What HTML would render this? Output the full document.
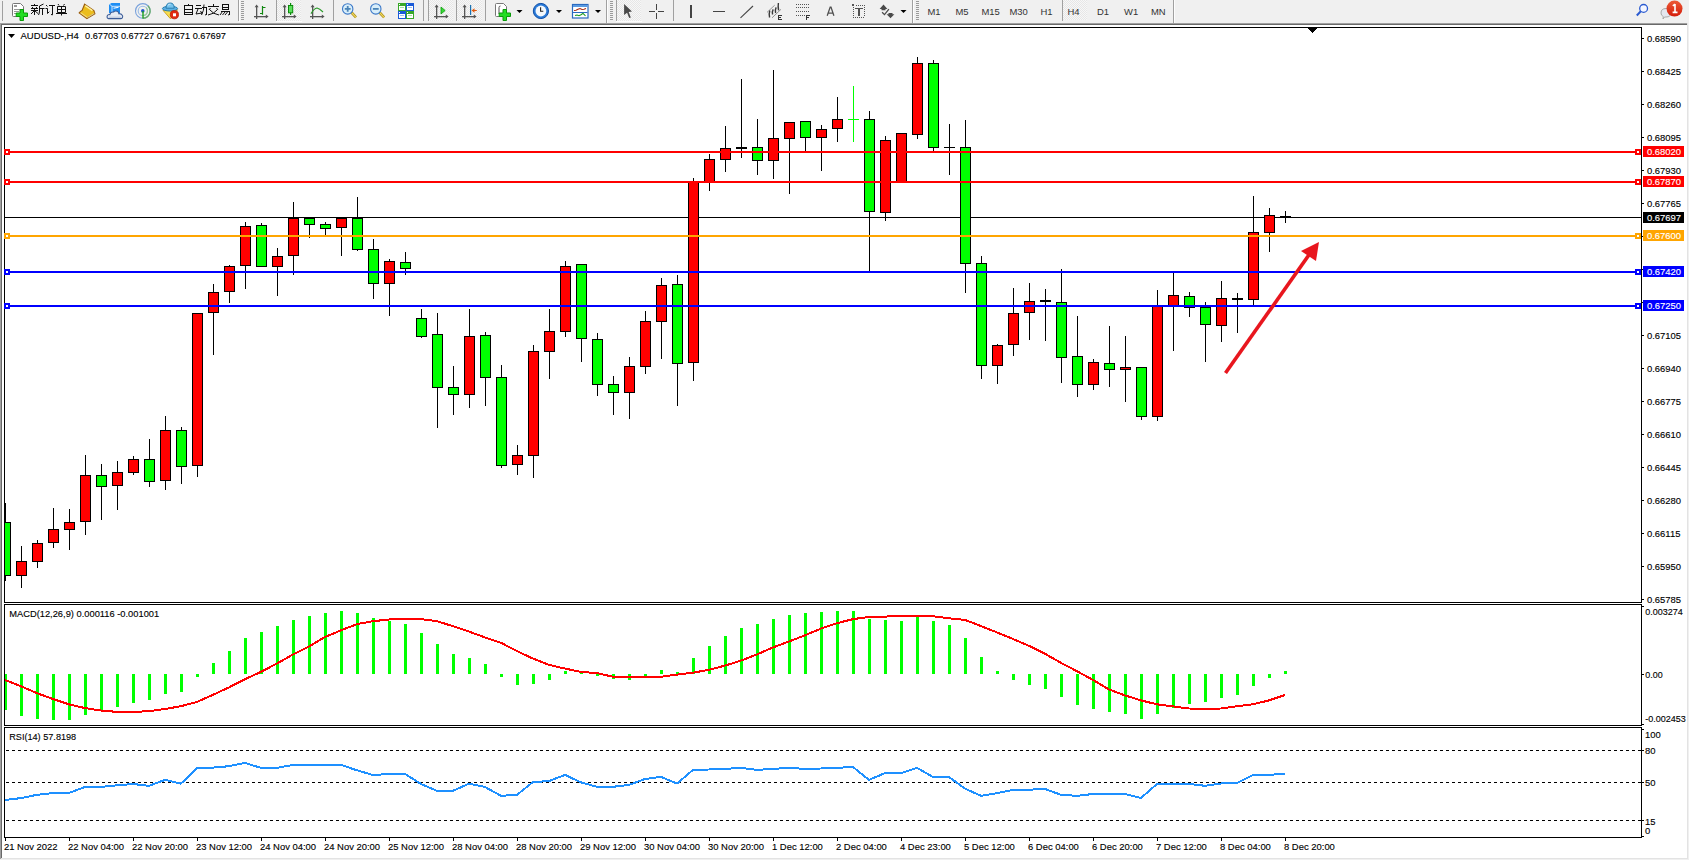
<!DOCTYPE html><html><head><meta charset="utf-8"><title>MT4 AUDUSD H4</title><style>
html,body{margin:0;padding:0;background:#f0f0f0;width:1689px;height:860px;overflow:hidden}
svg{display:block}
text{font-family:"Liberation Sans", sans-serif;font-size:9.45px}
</style></head><body>
<svg width="1689" height="860" viewBox="0 0 1689 860">
<defs><clipPath id="cm"><rect x="5" y="28" width="1636" height="574"/></clipPath><clipPath id="cmacd"><rect x="5" y="605" width="1636" height="120"/></clipPath><clipPath id="crsi"><rect x="5" y="728" width="1636" height="109"/></clipPath><pattern id="chk" width="2" height="2" patternUnits="userSpaceOnUse"><rect width="2" height="2" fill="#f7f7f7"/><rect width="1" height="1" fill="#e6e6e6"/><rect x="1" y="1" width="1" height="1" fill="#e6e6e6"/></pattern></defs>
<rect x="0" y="0" width="1689" height="23" fill="#f0f0f0"/>
<g id="toolbar">
<!-- separators (gray + white highlight) -->
<g shape-rendering="crispEdges">
<rect x="2" y="1" width="1" height="20" fill="#a0a0a0"/>
<rect x="238" y="0" width="1" height="21" fill="#a0a0a0"/><rect x="239" y="0" width="1" height="22" fill="#fdfdfd"/>
<rect x="276" y="0" width="1" height="21" fill="#a0a0a0"/>
<rect x="333" y="0" width="1" height="21" fill="#a0a0a0"/>
<rect x="423" y="0" width="1" height="21" fill="#a0a0a0"/>
<rect x="428" y="0" width="1" height="21" fill="#a0a0a0"/>
<rect x="456" y="0" width="1" height="21" fill="#a0a0a0"/>
<rect x="485" y="0" width="1" height="21" fill="#a0a0a0"/>
<rect x="606" y="0" width="1" height="23" fill="#a0a0a0"/><rect x="607" y="0" width="1" height="23" fill="#fdfdfd"/>
<rect x="616" y="0" width="1" height="21" fill="#a0a0a0"/>
<rect x="673" y="0" width="1" height="21" fill="#a0a0a0"/>
<rect x="912" y="0" width="1" height="23" fill="#a0a0a0"/><rect x="913" y="0" width="1" height="23" fill="#fdfdfd"/>
<rect x="1062" y="0" width="1" height="21" fill="#a0a0a0"/>
<rect x="1173" y="0" width="1" height="23" fill="#a0a0a0"/><rect x="1174" y="0" width="1" height="23" fill="#fdfdfd"/>
<!-- selected button backgrounds -->
<rect x="277" y="0" width="24" height="21" fill="url(#chk)"/>
<rect x="429" y="0" width="24" height="21" fill="url(#chk)"/>
<rect x="457" y="0" width="25" height="21" fill="url(#chk)"/>
<rect x="617" y="0" width="24" height="21" fill="url(#chk)"/>
<rect x="1063" y="0" width="24" height="20" fill="url(#chk)"/>
<rect x="276" y="21" width="26" height="1" fill="#fdfdfd"/>
<rect x="616" y="21" width="26" height="1" fill="#fdfdfd"/>
<!-- grips -->
<g fill="#9a9a9a">
<rect x="241" y="1" width="3" height="1"/>
<rect x="241" y="3" width="3" height="1"/>
<rect x="241" y="5" width="3" height="1"/>
<rect x="241" y="7" width="3" height="1"/>
<rect x="241" y="9" width="3" height="1"/>
<rect x="241" y="11" width="3" height="1"/>
<rect x="241" y="13" width="3" height="1"/>
<rect x="241" y="15" width="3" height="1"/>
<rect x="241" y="17" width="3" height="1"/>
<rect x="241" y="19" width="3" height="1"/>
<rect x="610" y="1" width="3" height="1"/>
<rect x="610" y="3" width="3" height="1"/>
<rect x="610" y="5" width="3" height="1"/>
<rect x="610" y="7" width="3" height="1"/>
<rect x="610" y="9" width="3" height="1"/>
<rect x="610" y="11" width="3" height="1"/>
<rect x="610" y="13" width="3" height="1"/>
<rect x="610" y="15" width="3" height="1"/>
<rect x="610" y="17" width="3" height="1"/>
<rect x="610" y="19" width="3" height="1"/>
<rect x="916" y="1" width="3" height="1"/>
<rect x="916" y="3" width="3" height="1"/>
<rect x="916" y="5" width="3" height="1"/>
<rect x="916" y="7" width="3" height="1"/>
<rect x="916" y="9" width="3" height="1"/>
<rect x="916" y="11" width="3" height="1"/>
<rect x="916" y="13" width="3" height="1"/>
<rect x="916" y="15" width="3" height="1"/>
<rect x="916" y="17" width="3" height="1"/>
<rect x="916" y="19" width="3" height="1"/>
</g>
</g>

<!-- New order doc -->
<path d="M12.5,4.5 Q12.5,3.5 13.5,3.5 L20.5,3.5 L23.5,6.5 L23.5,15.5 Q23.5,16.5 22.5,16.5 L13.5,16.5 Q12.5,16.5 12.5,15.5 Z" fill="#fff" stroke="#777" stroke-width="1"/>
<g fill="#999" shape-rendering="crispEdges"><rect x="14" y="5" width="3" height="2"/><rect x="14" y="9" width="6" height="1"/><rect x="14" y="11" width="5" height="1"/><rect x="14" y="13" width="3" height="1"/></g>
<path d="M20,9.5 h3.5 v3.5 h4 v3.5 h-4 v4 h-3.5 v-4 h-3.8 v-3.5 h3.8 z" fill="#22dd22" stroke="#0a9a0a" stroke-width="1"/>
<!-- 新订单 -->
<g stroke="#111" stroke-width="1" fill="none" shape-rendering="crispEdges">
<path d="M34.5,4 v1.5 M31,5.5 h7 M32.5,6.5 v1.5 M36.5,6.5 v1.5 M31,8.5 h7 M31,10.5 h7 M34.5,8.5 v6.5"/>
</g>
<g stroke="#111" stroke-width="1" fill="none">
<path d="M34,11 L31,14 M35,11 L38,13.5 M43.5,4 L39.5,6 M39.5,6 v5 Q39.5,13 38.5,15 M39.5,8.5 h5 M42.5,8.5 v6.5"/>
<path d="M46,5 l1.5,1.5 M45.5,8.5 h2 v5 l1.8,-1.8 M49,5.5 h6 M52.5,5.5 v9.3 q0,0.5 -1.5,-0.5"/>
<path d="M58,4 l1,1.5 M64.5,4 l-1,1.5 M57.5,6.5 h8 v6 h-8 z M57.5,9.5 h8 M61.5,6.5 v9 M56,13.5 h11"/>
</g>

<!-- gold book -->
<path d="M84.6,4.2 L93.9,10.5 L94.9,13.7 L86.9,18.5 L79.2,12.8 Q80.5,11.2 82,10.6 Z" fill="#ebbd1e" stroke="#9a5c0c" stroke-width="1.1"/>
<path d="M85.2,5.6 L92.5,10.6" stroke="#fff3a0" stroke-width="1.3"/>
<path d="M80.6,12.8 L87,17.2" stroke="#f2d878" stroke-width="1.2"/>
<path d="M87.3,17.6 L94.3,13.3" stroke="#d8c890" stroke-width="1"/>
<!-- blue box + cloud -->
<path d="M109,4.5 L111.5,3 L120,3 L120,13 L109,13 Z" fill="#1e8ef4"/>
<path d="M109.3,4 L112,6.3 L112,13 M112,6.3 L120,6.3" fill="none" stroke="#e0f0ff" stroke-width="0.9"/>
<path d="M113.5,8.2 L118.5,7.2" stroke="#ffffff" stroke-width="1.1"/>
<path d="M108.6,18.6 Q106.6,18.2 107.2,16 Q107.8,14.3 109.8,14.6 Q110.6,11.6 113.5,12 Q115,10.4 117.2,11.3 Q119,12 118.8,13.6 Q121.8,13.4 122.6,15.8 Q123,18.4 120.5,18.6 Z" fill="#e6ebf4" stroke="#3d5d98" stroke-width="1.1"/>
<path d="M109,17.2 H121" stroke="#c0cade" stroke-width="1.2"/>
<!-- signal rings -->
<circle cx="142.8" cy="10.9" r="7.3" fill="none" stroke="#7aa2dc" stroke-width="1.1"/>
<circle cx="142.8" cy="10.9" r="4.6" fill="none" stroke="#9abce4" stroke-width="1.1"/>
<path d="M147.9,5.7 A7.3,7.3 0 0 1 142.8,18.2" fill="none" stroke="#6aae6a" stroke-width="1.3"/>
<path d="M146.1,7.6 A4.6,4.6 0 0 1 142.8,15.5" fill="none" stroke="#98cc98" stroke-width="1.1"/>
<circle cx="142.8" cy="10.9" r="1.8" fill="#2255cc"/>
<path d="M143,11 V18.5" stroke="#1aa01a" stroke-width="1.4"/>
<!-- hat + stop -->
<path d="M163,10.3 L177.5,9.8 L170.5,18.8 Z" fill="#f6dc50" stroke="#c89a10" stroke-width="0.9"/>
<ellipse cx="170" cy="8.6" rx="7.6" ry="2.4" fill="#5cb0e4" stroke="#2a7eae" stroke-width="1"/>
<path d="M166,8.2 Q166,3 170.2,3 Q174.2,3 174.2,8.2 Z" fill="#78c4ee" stroke="#2a7eae" stroke-width="1"/>
<path d="M168,5.2 Q169,4 170.5,4.2" stroke="#d8f0ff" stroke-width="0.9" fill="none"/>
<circle cx="174.4" cy="14.7" r="4.1" fill="#e22a10" stroke="#b81a08" stroke-width="0.8"/>
<rect x="173" y="13.3" width="3" height="3" fill="#fff"/>
<!-- 自动交易 -->
<g stroke="#111" stroke-width="1" fill="none" shape-rendering="crispEdges">
<path d="M188,4 h1 M184.5,5.5 h8 v9 h-8 z M184.5,9.5 h8 M184.5,12.5 h8"/>
<path d="M196,5.5 h5 M195,8.5 h7 M202,7.5 h4.5 v7"/>
<path d="M213.5,4 v2 M208,6.5 h11"/>
<path d="M222.5,4.5 h6 v5 h-6 z M222.5,7 h6 M221,11.5 h8.5 v3"/>
</g>
<g stroke="#111" stroke-width="1" fill="none">
<path d="M198,9 L196,14 L202,13 M200.5,11 L202,13.5 M204,4.5 Q204,11 201.5,15 M206.5,14.5 L205,15"/>
<path d="M210.5,8 L209,10 M216.5,8 L218,10 M210,10 Q213,14 219,15 M217,10 Q214,14 208,15"/>
<path d="M222.5,11.5 L220,15 M225,12 L222.5,15 M227.5,12 L225,15 M229.5,14.5 L228,15"/>
</g>

<!-- chart type icons -->
<g fill="#555" stroke="none">
<rect x="256" y="6" width="1.3" height="13"/><rect x="254" y="16" width="13" height="1.3"/>
<path d="M256.6,4.6 L254.6,7.3 L258.6,7.3 Z M268.6,16.6 L265.8,14.6 L265.8,18.6 Z"/>
<rect x="284" y="6" width="1.3" height="13"/><rect x="282" y="16" width="13" height="1.3"/>
<path d="M284.6,4.6 L282.6,7.3 L286.6,7.3 Z M296.6,16.6 L293.8,14.6 L293.8,18.6 Z"/>
<rect x="312" y="6" width="1.3" height="13"/><rect x="310" y="16" width="13" height="1.3"/>
<path d="M312.6,4.6 L310.6,7.3 L314.6,7.3 Z M324.6,16.6 L321.8,14.6 L321.8,18.6 Z"/>
<rect x="436" y="6" width="1.3" height="13"/><rect x="434" y="16" width="13" height="1.3"/>
<path d="M436.6,4.6 L434.6,7.3 L438.6,7.3 Z M448.6,16.6 L445.8,14.6 L445.8,18.6 Z"/>
<rect x="464" y="6" width="1.3" height="13"/><rect x="462" y="16" width="13" height="1.3"/>
<path d="M464.6,4.6 L462.6,7.3 L466.6,7.3 Z M476.6,16.6 L473.8,14.6 L473.8,18.6 Z"/>
</g>
<path d="M262.5,6 V14.8 M262.5,7.5 H265.5 M260,13.5 H262.5" fill="none" stroke="#118811" stroke-width="1.2"/>
<path d="M290.6,3 V15" stroke="#0a8a0a" stroke-width="1.2"/>
<rect x="288.5" y="5.5" width="4.2" height="7.3" fill="#5ae05a" stroke="#0a8a0a" stroke-width="1"/>
<path d="M311,13.6 Q314,8.5 317,8 Q319.5,8.5 323,12" fill="none" stroke="#2a9a2a" stroke-width="1.1"/>
<path d="M441,7 L445.2,10.5 L441,14 Z" fill="#38d838" stroke="#0a9a0a" stroke-width="0.8"/>
<rect x="470" y="5" width="1.2" height="10" fill="#1a70b0"/>
<path d="M471.5,10.5 L474.5,8.3 L474.5,12.7 Z M474,10 h2.8 v1 h-2.8 z" fill="#e05a10"/>

<!-- zoom in/out -->
<path d="M351.5,12.5 L356,17.3" stroke="#a88a10" stroke-width="2.6"/>
<path d="M351.5,12.5 L356,17.3" stroke="#f0d860" stroke-width="1.2"/>
<circle cx="347.7" cy="8.9" r="5.2" fill="#d8eefa" stroke="#3a78c8" stroke-width="1.1"/>
<path d="M344.8,8.9 h5.8 M347.7,6 v5.8" stroke="#4a84b8" stroke-width="1.8"/>
<path d="M379.6,12.5 L384.1,17.3" stroke="#a88a10" stroke-width="2.6"/>
<path d="M379.6,12.5 L384.1,17.3" stroke="#f0d860" stroke-width="1.2"/>
<circle cx="375.8" cy="8.9" r="5.2" fill="#d8eefa" stroke="#3a78c8" stroke-width="1.1"/>
<path d="M372.9,8.9 h5.8" stroke="#4a84b8" stroke-width="1.8"/>

<!-- tile windows -->
<g shape-rendering="crispEdges">
<rect x="398" y="3" width="8" height="8" fill="#38a828"/>
<rect x="399" y="4" width="1" height="1" fill="#fff"/>
<rect x="399" y="6" width="6" height="4" fill="#fff"/>
<rect x="400" y="7" width="4" height="1" fill="#a8e0a0"/>
<rect x="406" y="3" width="8" height="8" fill="#1a5ad8"/>
<rect x="407" y="4" width="1" height="1" fill="#fff"/>
<rect x="407" y="6" width="6" height="4" fill="#fff"/>
<rect x="408" y="7" width="4" height="1" fill="#a0c0f0"/>
<rect x="398" y="11" width="8" height="8" fill="#1a5ad8"/>
<rect x="399" y="12" width="1" height="1" fill="#fff"/>
<rect x="399" y="14" width="6" height="4" fill="#fff"/>
<rect x="400" y="15" width="4" height="1" fill="#a0c0f0"/>
<rect x="406" y="11" width="8" height="8" fill="#38a828"/>
<rect x="407" y="12" width="1" height="1" fill="#fff"/>
<rect x="407" y="14" width="6" height="4" fill="#fff"/>
<rect x="408" y="15" width="4" height="1" fill="#a8e0a0"/>
</g>

<!-- indicators doc + plus -->
<path d="M495.5,4.5 Q495.5,3.5 496.5,3.5 L503.5,3.5 L506.5,6.5 L506.5,15.5 Q506.5,16.5 505.5,16.5 L496.5,16.5 Q495.5,16.5 495.5,15.5 Z" fill="#fff" stroke="#777" stroke-width="1"/>
<path d="M500.5,6 Q499,6 499,7.5 V14" fill="none" stroke="#555" stroke-width="1"/>
<path d="M503,9.5 h3.5 v3.5 h4 v3.5 h-4 v4 h-3.5 v-4 h-3.8 v-3.5 h3.8 z" fill="#22dd22" stroke="#0a9a0a" stroke-width="1"/>
<path d="M516.5,10 h6 l-3,3 z" fill="#000"/>
<!-- clock -->
<circle cx="540.9" cy="11" r="7.6" fill="#2a7ad8" stroke="#1050a8" stroke-width="1"/>
<circle cx="540.9" cy="11" r="5.4" fill="#f4f8fc"/>
<path d="M540.6,7.3 V11.3 H543.3" fill="none" stroke="#222" stroke-width="1.1"/>
<path d="M556,10 h6 l-3,3 z" fill="#000"/>
<!-- templates -->
<rect x="572.5" y="4.5" width="15.5" height="13.5" fill="#fff" stroke="#2a6ac0" stroke-width="1.2"/>
<rect x="573" y="5" width="14.5" height="2" fill="#5a9ae0"/>
<rect x="573" y="12" width="14.5" height="1" fill="#2a6ac0"/>
<path d="M574,10.5 L576,10.3 L578,9.3 L580,8.6 L582,9.5 L584,9.2 L586,8.5" fill="none" stroke="#a82a10" stroke-width="1.1"/>
<path d="M575,15.5 L577,15 L579,15.7 L581,14.8 L583,13.4 L585.5,15.8" fill="none" stroke="#1a9a1a" stroke-width="1.1"/>
<path d="M595,10 h6 l-3,3 z" fill="#000"/>

<!-- cursor / crosshair -->
<path d="M624.1,3.9 L624.1,14.9 L627.1,12.8 L629.2,18.1 L630.8,17.4 L628.7,12 L632,11.5 Z" fill="#4a4a4a"/>
<g fill="#444" shape-rendering="crispEdges">
<rect x="656" y="4" width="1" height="6"/><rect x="656" y="13" width="1" height="6"/>
<rect x="649" y="11" width="6" height="1"/><rect x="658" y="11" width="6" height="1"/>
<!-- vertical / horizontal line tools -->
<rect x="690" y="5" width="1.5" height="13"/>
<rect x="713" y="11" width="12" height="1.4"/>
</g>
<path d="M740.5,17.8 L753,6" stroke="#444" stroke-width="1.1"/>
<!-- fibo channel E -->
<path d="M767,12.4 L774.7,5.2 M772.1,17.8 L781,9.3" stroke="#8a8a8a" stroke-width="0.9" fill="none"/>
<path d="M769.6,17.5 Q768.8,13.5 769.8,10.6 M772.6,14.5 Q771.8,12 773.2,9.4 M775.6,13 Q774.8,10 776.2,7.4 M778.6,10.3 Q777.8,6.5 778.4,3" stroke="#3a3a3a" stroke-width="1.4" fill="none"/>
<g fill="#333" shape-rendering="crispEdges">
<rect x="778" y="15" width="1" height="5"/><rect x="778" y="15" width="4" height="1"/><rect x="778" y="17" width="3" height="1"/><rect x="778" y="19" width="4" height="1"/>
</g>
<!-- fibo F -->
<g fill="#444" shape-rendering="crispEdges">
<rect x="796" y="4" width="13" height="1" fill="url(#dots)"/>
</g>
<g fill="#555" shape-rendering="crispEdges">
<rect x="796" y="4" width="1" height="1"/>
<rect x="798" y="4" width="1" height="1"/>
<rect x="800" y="4" width="1" height="1"/>
<rect x="802" y="4" width="1" height="1"/>
<rect x="804" y="4" width="1" height="1"/>
<rect x="806" y="4" width="1" height="1"/>
<rect x="808" y="4" width="1" height="1"/>
<rect x="796" y="7" width="1" height="1"/>
<rect x="798" y="7" width="1" height="1"/>
<rect x="800" y="7" width="1" height="1"/>
<rect x="802" y="7" width="1" height="1"/>
<rect x="804" y="7" width="1" height="1"/>
<rect x="806" y="7" width="1" height="1"/>
<rect x="808" y="7" width="1" height="1"/>
<rect x="796" y="11" width="1" height="1"/>
<rect x="798" y="11" width="1" height="1"/>
<rect x="800" y="11" width="1" height="1"/>
<rect x="802" y="11" width="1" height="1"/>
<rect x="804" y="11" width="1" height="1"/>
<rect x="806" y="11" width="1" height="1"/>
<rect x="808" y="11" width="1" height="1"/>
<rect x="796" y="15" width="1" height="1"/>
<rect x="798" y="15" width="1" height="1"/>
<rect x="800" y="15" width="1" height="1"/>
<rect x="802" y="15" width="1" height="1"/>
<rect x="804" y="15" width="1" height="1"/>
</g>
<g fill="#333" shape-rendering="crispEdges"><rect x="806" y="15" width="1" height="5"/><rect x="806" y="15" width="4" height="1"/><rect x="806" y="17" width="3" height="1"/></g>
<!-- A -->
<path d="M827.2,15.8 L830.2,7.1 H831 L833.9,15.8 M828.4,13.2 h4.4" fill="none" stroke="#505050" stroke-width="1.3"/>
<!-- text box T -->
<g fill="#555" shape-rendering="crispEdges">
<rect x="856" y="5" width="1" height="1"/>
<rect x="858" y="5" width="1" height="1"/>
<rect x="860" y="5" width="1" height="1"/>
<rect x="862" y="5" width="1" height="1"/>
<rect x="864" y="5" width="1" height="1"/>
<rect x="853" y="17" width="1" height="1"/>
<rect x="855" y="17" width="1" height="1"/>
<rect x="857" y="17" width="1" height="1"/>
<rect x="859" y="17" width="1" height="1"/>
<rect x="861" y="17" width="1" height="1"/>
<rect x="863" y="17" width="1" height="1"/>
<rect x="853" y="7" width="1" height="1"/><rect x="864" y="7" width="1" height="1"/>
<rect x="853" y="9" width="1" height="1"/><rect x="864" y="9" width="1" height="1"/>
<rect x="853" y="11" width="1" height="1"/><rect x="864" y="11" width="1" height="1"/>
<rect x="853" y="13" width="1" height="1"/><rect x="864" y="13" width="1" height="1"/>
<rect x="853" y="15" width="1" height="1"/><rect x="864" y="15" width="1" height="1"/>
<rect x="852" y="4" width="2" height="2"/></g>
<g fill="#505050" shape-rendering="crispEdges"><rect x="855" y="8" width="8" height="1.4"/><rect x="858.3" y="8" width="2" height="7.8"/></g>
<!-- arrows icon -->
<path d="M883.5,4.6 L879.6,8.9 H881.5 V10.2 H885.5 V8.9 H887.4 Z M890.5,18.2 L886.6,14.2 H888.5 V12.9 H892.5 V14.2 H894.4 Z" fill="#4a4a4a"/>
<path d="M882.1,12.3 L884.5,14.6 L888.9,9.2" fill="none" stroke="#4a4a4a" stroke-width="1.3"/>
<path d="M900.5,10 h6 l-3,3 z" fill="#000"/>

<!-- timeframes -->
<g fill="#333" style="font-family:'Liberation Sans',sans-serif;font-size:9.6px">
<text x="927.5" y="15">M1</text>
<text x="955.5" y="15">M5</text>
<text x="981.5" y="15">M15</text>
<text x="1009.5" y="15">M30</text>
<text x="1040.5" y="15">H1</text>
<text x="1067.5" y="15">H4</text>
<text x="1097" y="15">D1</text>
<text x="1124" y="15">W1</text>
<text x="1151" y="15">MN</text>
</g>

<!-- search -->
<circle cx="1643.6" cy="8.4" r="3.9" fill="#f4f6ff" stroke="#2a5ad0" stroke-width="1.3"/>
<path d="M1640.8,11.3 L1636.8,15.5" stroke="#2a5ad0" stroke-width="2"/>
<!-- chat + badge -->
<path d="M1661,13 Q1661,8.5 1666,8.5 Q1671,8.5 1671,13 Q1671,17 1666,17 L1664.5,17 L1663,19 L1663.3,16.6 Q1661,15.5 1661,13 Z" fill="#e4e6ee" stroke="#a0a0a0" stroke-width="0.9"/>
<defs><linearGradient id="badge" x1="0" y1="0" x2="0" y2="1"><stop offset="0" stop-color="#ec5a36"/><stop offset="1" stop-color="#d41c0a"/></linearGradient></defs>
<circle cx="1674.5" cy="8.6" r="8" fill="url(#badge)"/>
<path d="M1675,4 V12.2 M1672.6,12.4 h4.9 M1672.8,5.8 l2.2,-1.6" stroke="#fff" stroke-width="1.6" fill="none"/>
</g>

<rect x="0" y="23" width="1689" height="1" fill="#a0a0a0"/>
<rect x="0" y="24" width="1687" height="1" fill="#696969"/>
<g shape-rendering="crispEdges">
<rect x="2" y="25" width="1685" height="833" fill="#ffffff"/>
<rect x="0" y="23" width="1" height="837" fill="#a0a0a0"/>
<rect x="1" y="24" width="1" height="835" fill="#696969"/>
<rect x="1687" y="23" width="1" height="836" fill="#e3e3e3"/>
<rect x="1" y="858" width="1687" height="1" fill="#e3e3e3"/>
<rect x="1688" y="23" width="1" height="837" fill="#f0f0f0"/>
<rect x="0" y="859" width="1689" height="1" fill="#f0f0f0"/>
<rect x="4" y="27" width="1638" height="1" fill="#000"/>
<rect x="4" y="602" width="1638" height="1" fill="#000"/>
<rect x="4" y="27" width="1" height="576" fill="#000"/>
<rect x="1641" y="27" width="1" height="576" fill="#000"/>
<rect x="4" y="604" width="1638" height="1" fill="#000"/>
<rect x="4" y="725" width="1638" height="1" fill="#000"/>
<rect x="4" y="604" width="1" height="122" fill="#000"/>
<rect x="1641" y="604" width="1" height="122" fill="#000"/>
<rect x="4" y="727" width="1638" height="1" fill="#000"/>
<rect x="4" y="837" width="1638" height="1" fill="#000"/>
<rect x="4" y="727" width="1" height="111" fill="#000"/>
<rect x="1641" y="727" width="1" height="111" fill="#000"/>
<g clip-path="url(#cm)">
<rect x="5" y="217" width="1636" height="1" fill="#000"/>
<rect x="5" y="503" width="1" height="78" fill="#000"/>
<rect x="0" y="522" width="11" height="54" fill="#000"/>
<rect x="1" y="523" width="9" height="52" fill="#00ff00"/>
<rect x="21" y="546" width="1" height="42" fill="#000"/>
<rect x="16" y="561" width="11" height="15" fill="#000"/>
<rect x="17" y="562" width="9" height="13" fill="#ff0000"/>
<rect x="37" y="540" width="1" height="28" fill="#000"/>
<rect x="32" y="543" width="11" height="19" fill="#000"/>
<rect x="33" y="544" width="9" height="17" fill="#ff0000"/>
<rect x="53" y="508" width="1" height="40" fill="#000"/>
<rect x="48" y="529" width="11" height="14" fill="#000"/>
<rect x="49" y="530" width="9" height="12" fill="#ff0000"/>
<rect x="69" y="509" width="1" height="41" fill="#000"/>
<rect x="64" y="522" width="11" height="8" fill="#000"/>
<rect x="65" y="523" width="9" height="6" fill="#ff0000"/>
<rect x="85" y="455" width="1" height="80" fill="#000"/>
<rect x="80" y="475" width="11" height="47" fill="#000"/>
<rect x="81" y="476" width="9" height="45" fill="#ff0000"/>
<rect x="101" y="464" width="1" height="56" fill="#000"/>
<rect x="96" y="475" width="11" height="12" fill="#000"/>
<rect x="97" y="476" width="9" height="10" fill="#00ff00"/>
<rect x="117" y="461" width="1" height="49" fill="#000"/>
<rect x="112" y="472" width="11" height="14" fill="#000"/>
<rect x="113" y="473" width="9" height="12" fill="#ff0000"/>
<rect x="133" y="456" width="1" height="19" fill="#000"/>
<rect x="128" y="459" width="11" height="14" fill="#000"/>
<rect x="129" y="460" width="9" height="12" fill="#ff0000"/>
<rect x="149" y="439" width="1" height="48" fill="#000"/>
<rect x="144" y="459" width="11" height="23" fill="#000"/>
<rect x="145" y="460" width="9" height="21" fill="#00ff00"/>
<rect x="165" y="416" width="1" height="74" fill="#000"/>
<rect x="160" y="430" width="11" height="51" fill="#000"/>
<rect x="161" y="431" width="9" height="49" fill="#ff0000"/>
<rect x="181" y="427" width="1" height="57" fill="#000"/>
<rect x="176" y="430" width="11" height="37" fill="#000"/>
<rect x="177" y="431" width="9" height="35" fill="#00ff00"/>
<rect x="197" y="313" width="1" height="164" fill="#000"/>
<rect x="192" y="313" width="11" height="153" fill="#000"/>
<rect x="193" y="314" width="9" height="151" fill="#ff0000"/>
<rect x="213" y="284" width="1" height="71" fill="#000"/>
<rect x="208" y="292" width="11" height="21" fill="#000"/>
<rect x="209" y="293" width="9" height="19" fill="#ff0000"/>
<rect x="229" y="265" width="1" height="38" fill="#000"/>
<rect x="224" y="266" width="11" height="26" fill="#000"/>
<rect x="225" y="267" width="9" height="24" fill="#ff0000"/>
<rect x="245" y="222" width="1" height="67" fill="#000"/>
<rect x="240" y="226" width="11" height="40" fill="#000"/>
<rect x="241" y="227" width="9" height="38" fill="#ff0000"/>
<rect x="261" y="223" width="1" height="43" fill="#000"/>
<rect x="256" y="225" width="11" height="42" fill="#000"/>
<rect x="257" y="226" width="9" height="40" fill="#00ff00"/>
<rect x="277" y="248" width="1" height="48" fill="#000"/>
<rect x="272" y="256" width="11" height="11" fill="#000"/>
<rect x="273" y="257" width="9" height="9" fill="#ff0000"/>
<rect x="293" y="202" width="1" height="73" fill="#000"/>
<rect x="288" y="218" width="11" height="38" fill="#000"/>
<rect x="289" y="219" width="9" height="36" fill="#ff0000"/>
<rect x="309" y="218" width="1" height="20" fill="#000"/>
<rect x="304" y="218" width="11" height="7" fill="#000"/>
<rect x="305" y="219" width="9" height="5" fill="#00ff00"/>
<rect x="325" y="222" width="1" height="13" fill="#000"/>
<rect x="320" y="224" width="11" height="5" fill="#000"/>
<rect x="321" y="225" width="9" height="3" fill="#00ff00"/>
<rect x="341" y="218" width="1" height="38" fill="#000"/>
<rect x="336" y="218" width="11" height="10" fill="#000"/>
<rect x="337" y="219" width="9" height="8" fill="#ff0000"/>
<rect x="357" y="197" width="1" height="54" fill="#000"/>
<rect x="352" y="218" width="11" height="32" fill="#000"/>
<rect x="353" y="219" width="9" height="30" fill="#00ff00"/>
<rect x="373" y="239" width="1" height="60" fill="#000"/>
<rect x="368" y="249" width="11" height="35" fill="#000"/>
<rect x="369" y="250" width="9" height="33" fill="#00ff00"/>
<rect x="389" y="259" width="1" height="57" fill="#000"/>
<rect x="384" y="261" width="11" height="23" fill="#000"/>
<rect x="385" y="262" width="9" height="21" fill="#ff0000"/>
<rect x="405" y="252" width="1" height="23" fill="#000"/>
<rect x="400" y="262" width="11" height="7" fill="#000"/>
<rect x="401" y="263" width="9" height="5" fill="#00ff00"/>
<rect x="421" y="309" width="1" height="29" fill="#000"/>
<rect x="416" y="318" width="11" height="19" fill="#000"/>
<rect x="417" y="319" width="9" height="17" fill="#00ff00"/>
<rect x="437" y="313" width="1" height="115" fill="#000"/>
<rect x="432" y="334" width="11" height="54" fill="#000"/>
<rect x="433" y="335" width="9" height="52" fill="#00ff00"/>
<rect x="453" y="366" width="1" height="49" fill="#000"/>
<rect x="448" y="387" width="11" height="8" fill="#000"/>
<rect x="449" y="388" width="9" height="6" fill="#00ff00"/>
<rect x="469" y="309" width="1" height="99" fill="#000"/>
<rect x="464" y="336" width="11" height="59" fill="#000"/>
<rect x="465" y="337" width="9" height="57" fill="#ff0000"/>
<rect x="485" y="332" width="1" height="74" fill="#000"/>
<rect x="480" y="335" width="11" height="43" fill="#000"/>
<rect x="481" y="336" width="9" height="41" fill="#00ff00"/>
<rect x="501" y="365" width="1" height="103" fill="#000"/>
<rect x="496" y="377" width="11" height="89" fill="#000"/>
<rect x="497" y="378" width="9" height="87" fill="#00ff00"/>
<rect x="517" y="445" width="1" height="30" fill="#000"/>
<rect x="512" y="455" width="11" height="10" fill="#000"/>
<rect x="513" y="456" width="9" height="8" fill="#ff0000"/>
<rect x="533" y="345" width="1" height="133" fill="#000"/>
<rect x="528" y="351" width="11" height="105" fill="#000"/>
<rect x="529" y="352" width="9" height="103" fill="#ff0000"/>
<rect x="549" y="309" width="1" height="70" fill="#000"/>
<rect x="544" y="331" width="11" height="21" fill="#000"/>
<rect x="545" y="332" width="9" height="19" fill="#ff0000"/>
<rect x="565" y="261" width="1" height="76" fill="#000"/>
<rect x="560" y="266" width="11" height="66" fill="#000"/>
<rect x="561" y="267" width="9" height="64" fill="#ff0000"/>
<rect x="581" y="264" width="1" height="98" fill="#000"/>
<rect x="576" y="264" width="11" height="75" fill="#000"/>
<rect x="577" y="265" width="9" height="73" fill="#00ff00"/>
<rect x="597" y="333" width="1" height="63" fill="#000"/>
<rect x="592" y="339" width="11" height="46" fill="#000"/>
<rect x="593" y="340" width="9" height="44" fill="#00ff00"/>
<rect x="613" y="376" width="1" height="39" fill="#000"/>
<rect x="608" y="384" width="11" height="9" fill="#000"/>
<rect x="609" y="385" width="9" height="7" fill="#00ff00"/>
<rect x="629" y="357" width="1" height="62" fill="#000"/>
<rect x="624" y="366" width="11" height="27" fill="#000"/>
<rect x="625" y="367" width="9" height="25" fill="#ff0000"/>
<rect x="645" y="311" width="1" height="63" fill="#000"/>
<rect x="640" y="321" width="11" height="46" fill="#000"/>
<rect x="641" y="322" width="9" height="44" fill="#ff0000"/>
<rect x="661" y="278" width="1" height="81" fill="#000"/>
<rect x="656" y="285" width="11" height="37" fill="#000"/>
<rect x="657" y="286" width="9" height="35" fill="#ff0000"/>
<rect x="677" y="275" width="1" height="131" fill="#000"/>
<rect x="672" y="284" width="11" height="80" fill="#000"/>
<rect x="673" y="285" width="9" height="78" fill="#00ff00"/>
<rect x="693" y="178" width="1" height="203" fill="#000"/>
<rect x="688" y="182" width="11" height="181" fill="#000"/>
<rect x="689" y="183" width="9" height="179" fill="#ff0000"/>
<rect x="709" y="154" width="1" height="37" fill="#000"/>
<rect x="704" y="159" width="11" height="23" fill="#000"/>
<rect x="705" y="160" width="9" height="21" fill="#ff0000"/>
<rect x="725" y="126" width="1" height="46" fill="#000"/>
<rect x="720" y="148" width="11" height="12" fill="#000"/>
<rect x="721" y="149" width="9" height="10" fill="#ff0000"/>
<rect x="741" y="79" width="1" height="79" fill="#000"/>
<rect x="736" y="147" width="11" height="2" fill="#000"/>
<rect x="757" y="119" width="1" height="56" fill="#000"/>
<rect x="752" y="147" width="11" height="14" fill="#000"/>
<rect x="753" y="148" width="9" height="12" fill="#00ff00"/>
<rect x="773" y="70" width="1" height="109" fill="#000"/>
<rect x="768" y="138" width="11" height="23" fill="#000"/>
<rect x="769" y="139" width="9" height="21" fill="#ff0000"/>
<rect x="789" y="122" width="1" height="72" fill="#000"/>
<rect x="784" y="122" width="11" height="17" fill="#000"/>
<rect x="785" y="123" width="9" height="15" fill="#ff0000"/>
<rect x="805" y="121" width="1" height="30" fill="#000"/>
<rect x="800" y="121" width="11" height="17" fill="#000"/>
<rect x="801" y="122" width="9" height="15" fill="#00ff00"/>
<rect x="821" y="125" width="1" height="46" fill="#000"/>
<rect x="816" y="129" width="11" height="9" fill="#000"/>
<rect x="817" y="130" width="9" height="7" fill="#ff0000"/>
<rect x="837" y="97" width="1" height="45" fill="#000"/>
<rect x="832" y="119" width="11" height="10" fill="#000"/>
<rect x="833" y="120" width="9" height="8" fill="#ff0000"/>
<rect x="853" y="86" width="1" height="56" fill="#00ff00"/>
<rect x="848" y="119" width="11" height="1" fill="#00ff00"/>
<rect x="869" y="111" width="1" height="160" fill="#000"/>
<rect x="864" y="119" width="11" height="93" fill="#000"/>
<rect x="865" y="120" width="9" height="91" fill="#00ff00"/>
<rect x="885" y="136" width="1" height="85" fill="#000"/>
<rect x="880" y="140" width="11" height="73" fill="#000"/>
<rect x="881" y="141" width="9" height="71" fill="#ff0000"/>
<rect x="901" y="133" width="1" height="48" fill="#000"/>
<rect x="896" y="133" width="11" height="49" fill="#000"/>
<rect x="897" y="134" width="9" height="47" fill="#ff0000"/>
<rect x="917" y="57" width="1" height="82" fill="#000"/>
<rect x="912" y="63" width="11" height="72" fill="#000"/>
<rect x="913" y="64" width="9" height="70" fill="#ff0000"/>
<rect x="933" y="60" width="1" height="91" fill="#000"/>
<rect x="928" y="63" width="11" height="85" fill="#000"/>
<rect x="929" y="64" width="9" height="83" fill="#00ff00"/>
<rect x="949" y="124" width="1" height="51" fill="#000"/>
<rect x="944" y="147" width="11" height="1" fill="#000"/>
<rect x="965" y="120" width="1" height="173" fill="#000"/>
<rect x="960" y="147" width="11" height="117" fill="#000"/>
<rect x="961" y="148" width="9" height="115" fill="#00ff00"/>
<rect x="981" y="256" width="1" height="123" fill="#000"/>
<rect x="976" y="263" width="11" height="103" fill="#000"/>
<rect x="977" y="264" width="9" height="101" fill="#00ff00"/>
<rect x="997" y="344" width="1" height="40" fill="#000"/>
<rect x="992" y="345" width="11" height="21" fill="#000"/>
<rect x="993" y="346" width="9" height="19" fill="#ff0000"/>
<rect x="1013" y="288" width="1" height="68" fill="#000"/>
<rect x="1008" y="313" width="11" height="32" fill="#000"/>
<rect x="1009" y="314" width="9" height="30" fill="#ff0000"/>
<rect x="1029" y="283" width="1" height="57" fill="#000"/>
<rect x="1024" y="301" width="11" height="12" fill="#000"/>
<rect x="1025" y="302" width="9" height="10" fill="#ff0000"/>
<rect x="1045" y="289" width="1" height="52" fill="#000"/>
<rect x="1040" y="300" width="11" height="2" fill="#000"/>
<rect x="1061" y="269" width="1" height="114" fill="#000"/>
<rect x="1056" y="302" width="11" height="56" fill="#000"/>
<rect x="1057" y="303" width="9" height="54" fill="#00ff00"/>
<rect x="1077" y="316" width="1" height="81" fill="#000"/>
<rect x="1072" y="356" width="11" height="29" fill="#000"/>
<rect x="1073" y="357" width="9" height="27" fill="#00ff00"/>
<rect x="1093" y="359" width="1" height="31" fill="#000"/>
<rect x="1088" y="362" width="11" height="23" fill="#000"/>
<rect x="1089" y="363" width="9" height="21" fill="#ff0000"/>
<rect x="1109" y="326" width="1" height="61" fill="#000"/>
<rect x="1104" y="363" width="11" height="7" fill="#000"/>
<rect x="1105" y="364" width="9" height="5" fill="#00ff00"/>
<rect x="1125" y="336" width="1" height="66" fill="#000"/>
<rect x="1120" y="367" width="11" height="3" fill="#000"/>
<rect x="1121" y="368" width="9" height="1" fill="#ff0000"/>
<rect x="1141" y="367" width="1" height="53" fill="#000"/>
<rect x="1136" y="367" width="11" height="50" fill="#000"/>
<rect x="1137" y="368" width="9" height="48" fill="#00ff00"/>
<rect x="1157" y="290" width="1" height="131" fill="#000"/>
<rect x="1152" y="306" width="11" height="111" fill="#000"/>
<rect x="1153" y="307" width="9" height="109" fill="#ff0000"/>
<rect x="1173" y="273" width="1" height="78" fill="#000"/>
<rect x="1168" y="295" width="11" height="11" fill="#000"/>
<rect x="1169" y="296" width="9" height="9" fill="#ff0000"/>
<rect x="1189" y="292" width="1" height="25" fill="#000"/>
<rect x="1184" y="296" width="11" height="12" fill="#000"/>
<rect x="1185" y="297" width="9" height="10" fill="#00ff00"/>
<rect x="1205" y="302" width="1" height="60" fill="#000"/>
<rect x="1200" y="307" width="11" height="18" fill="#000"/>
<rect x="1201" y="308" width="9" height="16" fill="#00ff00"/>
<rect x="1221" y="281" width="1" height="61" fill="#000"/>
<rect x="1216" y="298" width="11" height="28" fill="#000"/>
<rect x="1217" y="299" width="9" height="26" fill="#ff0000"/>
<rect x="1237" y="293" width="1" height="40" fill="#000"/>
<rect x="1232" y="298" width="11" height="2" fill="#000"/>
<rect x="1253" y="196" width="1" height="109" fill="#000"/>
<rect x="1248" y="232" width="11" height="68" fill="#000"/>
<rect x="1249" y="233" width="9" height="66" fill="#ff0000"/>
<rect x="1269" y="208" width="1" height="44" fill="#000"/>
<rect x="1264" y="215" width="11" height="18" fill="#000"/>
<rect x="1265" y="216" width="9" height="16" fill="#ff0000"/>
<rect x="1285" y="211" width="1" height="12" fill="#000"/>
<rect x="1280" y="216" width="11" height="2" fill="#000"/>
<rect x="5" y="151" width="1636" height="2" fill="#ff0000"/>
<rect x="5" y="181" width="1636" height="2" fill="#ff0000"/>
<rect x="5" y="235" width="1636" height="2" fill="#ffa500"/>
<rect x="5" y="271" width="1636" height="2" fill="#0000ff"/>
<rect x="5" y="305" width="1636" height="2" fill="#0000ff"/>
</g>
<rect x="4" y="149" width="6" height="6" fill="#ff0000"/>
<rect x="6" y="151" width="2" height="2" fill="#fff"/>
<rect x="1635" y="149" width="6" height="6" fill="#ff0000"/>
<rect x="1637" y="151" width="2" height="2" fill="#fff"/>
<rect x="4" y="179" width="6" height="6" fill="#ff0000"/>
<rect x="6" y="181" width="2" height="2" fill="#fff"/>
<rect x="1635" y="179" width="6" height="6" fill="#ff0000"/>
<rect x="1637" y="181" width="2" height="2" fill="#fff"/>
<rect x="4" y="233" width="6" height="6" fill="#ffa500"/>
<rect x="6" y="235" width="2" height="2" fill="#fff"/>
<rect x="1635" y="233" width="6" height="6" fill="#ffa500"/>
<rect x="1637" y="235" width="2" height="2" fill="#fff"/>
<rect x="4" y="269" width="6" height="6" fill="#0000ff"/>
<rect x="6" y="271" width="2" height="2" fill="#fff"/>
<rect x="1635" y="269" width="6" height="6" fill="#0000ff"/>
<rect x="1637" y="271" width="2" height="2" fill="#fff"/>
<rect x="4" y="303" width="6" height="6" fill="#0000ff"/>
<rect x="6" y="305" width="2" height="2" fill="#fff"/>
<rect x="1635" y="303" width="6" height="6" fill="#0000ff"/>
<rect x="1637" y="305" width="2" height="2" fill="#fff"/>
<polygon points="1307,28 1317,28 1312,33" fill="#000"/>
</g>
<line x1="1225.5" y1="373" x2="1311" y2="252" stroke="#e8161e" stroke-width="3.6"/>
<polygon points="1319,242 1301,251 1316,261" fill="#e8161e"/>
<polygon points="8,34 15,34 11.5,38" fill="#000"/>
<text transform="translate(20.5,39) scale(1,1.05)" fill="#000" stroke="#000" stroke-width="0.12" textLength="58.3" lengthAdjust="spacingAndGlyphs">AUDUSD-,H4</text>
<text transform="translate(85,39) scale(1,1.05)" fill="#000" stroke="#000" stroke-width="0.12" textLength="141" lengthAdjust="spacingAndGlyphs">0.67703 0.67727 0.67671 0.67697</text>
<g shape-rendering="crispEdges">
<rect x="1642" y="38" width="2" height="1" fill="#000"/>
<rect x="1642" y="71" width="2" height="1" fill="#000"/>
<rect x="1642" y="104" width="2" height="1" fill="#000"/>
<rect x="1642" y="137" width="2" height="1" fill="#000"/>
<rect x="1642" y="170" width="2" height="1" fill="#000"/>
<rect x="1642" y="203" width="2" height="1" fill="#000"/>
<rect x="1642" y="236" width="2" height="1" fill="#000"/>
<rect x="1642" y="269" width="2" height="1" fill="#000"/>
<rect x="1642" y="302" width="2" height="1" fill="#000"/>
<rect x="1642" y="335" width="2" height="1" fill="#000"/>
<rect x="1642" y="368" width="2" height="1" fill="#000"/>
<rect x="1642" y="401" width="2" height="1" fill="#000"/>
<rect x="1642" y="434" width="2" height="1" fill="#000"/>
<rect x="1642" y="467" width="2" height="1" fill="#000"/>
<rect x="1642" y="500" width="2" height="1" fill="#000"/>
<rect x="1642" y="533" width="2" height="1" fill="#000"/>
<rect x="1642" y="566" width="2" height="1" fill="#000"/>
<rect x="1642" y="599" width="2" height="1" fill="#000"/>
</g>
<text transform="translate(1647,42.1) scale(1,1.05)" fill="#000" stroke="#000" stroke-width="0.12">0.68590</text>
<text transform="translate(1647,75.1) scale(1,1.05)" fill="#000" stroke="#000" stroke-width="0.12">0.68425</text>
<text transform="translate(1647,108.1) scale(1,1.05)" fill="#000" stroke="#000" stroke-width="0.12">0.68260</text>
<text transform="translate(1647,141.1) scale(1,1.05)" fill="#000" stroke="#000" stroke-width="0.12">0.68095</text>
<text transform="translate(1647,174.1) scale(1,1.05)" fill="#000" stroke="#000" stroke-width="0.12">0.67930</text>
<text transform="translate(1647,207.1) scale(1,1.05)" fill="#000" stroke="#000" stroke-width="0.12">0.67765</text>
<text transform="translate(1647,240.1) scale(1,1.05)" fill="#000" stroke="#000" stroke-width="0.12">0.67600</text>
<text transform="translate(1647,273.1) scale(1,1.05)" fill="#000" stroke="#000" stroke-width="0.12">0.67435</text>
<text transform="translate(1647,306.1) scale(1,1.05)" fill="#000" stroke="#000" stroke-width="0.12">0.67270</text>
<text transform="translate(1647,339.1) scale(1,1.05)" fill="#000" stroke="#000" stroke-width="0.12">0.67105</text>
<text transform="translate(1647,372.1) scale(1,1.05)" fill="#000" stroke="#000" stroke-width="0.12">0.66940</text>
<text transform="translate(1647,405.1) scale(1,1.05)" fill="#000" stroke="#000" stroke-width="0.12">0.66775</text>
<text transform="translate(1647,438.1) scale(1,1.05)" fill="#000" stroke="#000" stroke-width="0.12">0.66610</text>
<text transform="translate(1647,471.1) scale(1,1.05)" fill="#000" stroke="#000" stroke-width="0.12">0.66445</text>
<text transform="translate(1647,504.1) scale(1,1.05)" fill="#000" stroke="#000" stroke-width="0.12">0.66280</text>
<text transform="translate(1647,537.1) scale(1,1.05)" fill="#000" stroke="#000" stroke-width="0.12">0.66115</text>
<text transform="translate(1647,570.1) scale(1,1.05)" fill="#000" stroke="#000" stroke-width="0.12">0.65950</text>
<text transform="translate(1647,603.1) scale(1,1.05)" fill="#000" stroke="#000" stroke-width="0.12">0.65785</text>
<rect x="1643" y="146" width="41" height="11" fill="#ff0000" shape-rendering="crispEdges"/>
<text transform="translate(1647,154.6) scale(1,1.05)" fill="#fff" stroke="#fff" stroke-width="0.12">0.68020</text>
<rect x="1643" y="176" width="41" height="11" fill="#ff0000" shape-rendering="crispEdges"/>
<text transform="translate(1647,184.6) scale(1,1.05)" fill="#fff" stroke="#fff" stroke-width="0.12">0.67870</text>
<rect x="1643" y="212" width="41" height="11" fill="#000000" shape-rendering="crispEdges"/>
<text transform="translate(1647,220.6) scale(1,1.05)" fill="#fff" stroke="#fff" stroke-width="0.12">0.67697</text>
<rect x="1643" y="230" width="41" height="11" fill="#ffa500" shape-rendering="crispEdges"/>
<text transform="translate(1647,238.6) scale(1,1.05)" fill="#fff" stroke="#fff" stroke-width="0.12">0.67600</text>
<rect x="1643" y="266" width="41" height="11" fill="#0000ff" shape-rendering="crispEdges"/>
<text transform="translate(1647,274.6) scale(1,1.05)" fill="#fff" stroke="#fff" stroke-width="0.12">0.67420</text>
<rect x="1643" y="300" width="41" height="11" fill="#0000ff" shape-rendering="crispEdges"/>
<text transform="translate(1647,308.6) scale(1,1.05)" fill="#fff" stroke="#fff" stroke-width="0.12">0.67250</text>
<g clip-path="url(#cmacd)" shape-rendering="crispEdges">
<rect x="4" y="674" width="3" height="36" fill="#00ff00"/>
<rect x="20" y="674" width="3" height="42" fill="#00ff00"/>
<rect x="36" y="674" width="3" height="45" fill="#00ff00"/>
<rect x="52" y="674" width="3" height="46" fill="#00ff00"/>
<rect x="68" y="674" width="3" height="46" fill="#00ff00"/>
<rect x="84" y="674" width="3" height="41" fill="#00ff00"/>
<rect x="100" y="674" width="3" height="36" fill="#00ff00"/>
<rect x="116" y="674" width="3" height="33" fill="#00ff00"/>
<rect x="132" y="674" width="3" height="29" fill="#00ff00"/>
<rect x="148" y="674" width="3" height="26" fill="#00ff00"/>
<rect x="164" y="674" width="3" height="20" fill="#00ff00"/>
<rect x="180" y="674" width="3" height="18" fill="#00ff00"/>
<rect x="196" y="674" width="3" height="3" fill="#00ff00"/>
<rect x="212" y="663" width="3" height="11" fill="#00ff00"/>
<rect x="228" y="651" width="3" height="23" fill="#00ff00"/>
<rect x="244" y="638" width="3" height="36" fill="#00ff00"/>
<rect x="260" y="632" width="3" height="42" fill="#00ff00"/>
<rect x="276" y="626" width="3" height="48" fill="#00ff00"/>
<rect x="292" y="620" width="3" height="54" fill="#00ff00"/>
<rect x="308" y="616" width="3" height="58" fill="#00ff00"/>
<rect x="324" y="613" width="3" height="61" fill="#00ff00"/>
<rect x="340" y="611" width="3" height="63" fill="#00ff00"/>
<rect x="356" y="613" width="3" height="61" fill="#00ff00"/>
<rect x="372" y="618" width="3" height="56" fill="#00ff00"/>
<rect x="388" y="621" width="3" height="53" fill="#00ff00"/>
<rect x="404" y="624" width="3" height="50" fill="#00ff00"/>
<rect x="420" y="633" width="3" height="41" fill="#00ff00"/>
<rect x="436" y="644" width="3" height="30" fill="#00ff00"/>
<rect x="452" y="654" width="3" height="20" fill="#00ff00"/>
<rect x="468" y="658" width="3" height="16" fill="#00ff00"/>
<rect x="484" y="664" width="3" height="10" fill="#00ff00"/>
<rect x="500" y="674" width="3" height="3" fill="#00ff00"/>
<rect x="516" y="674" width="3" height="11" fill="#00ff00"/>
<rect x="532" y="674" width="3" height="10" fill="#00ff00"/>
<rect x="548" y="674" width="3" height="6" fill="#00ff00"/>
<rect x="564" y="671" width="3" height="3" fill="#00ff00"/>
<rect x="580" y="672" width="3" height="2" fill="#00ff00"/>
<rect x="596" y="674" width="3" height="2" fill="#00ff00"/>
<rect x="612" y="674" width="3" height="5" fill="#00ff00"/>
<rect x="628" y="674" width="3" height="6" fill="#00ff00"/>
<rect x="644" y="674" width="3" height="2" fill="#00ff00"/>
<rect x="660" y="670" width="3" height="4" fill="#00ff00"/>
<rect x="676" y="672" width="3" height="2" fill="#00ff00"/>
<rect x="692" y="658" width="3" height="16" fill="#00ff00"/>
<rect x="708" y="646" width="3" height="28" fill="#00ff00"/>
<rect x="724" y="636" width="3" height="38" fill="#00ff00"/>
<rect x="740" y="628" width="3" height="46" fill="#00ff00"/>
<rect x="756" y="624" width="3" height="50" fill="#00ff00"/>
<rect x="772" y="619" width="3" height="55" fill="#00ff00"/>
<rect x="788" y="615" width="3" height="59" fill="#00ff00"/>
<rect x="804" y="613" width="3" height="61" fill="#00ff00"/>
<rect x="820" y="612" width="3" height="62" fill="#00ff00"/>
<rect x="836" y="611" width="3" height="63" fill="#00ff00"/>
<rect x="852" y="611" width="3" height="63" fill="#00ff00"/>
<rect x="868" y="619" width="3" height="55" fill="#00ff00"/>
<rect x="884" y="620" width="3" height="54" fill="#00ff00"/>
<rect x="900" y="621" width="3" height="53" fill="#00ff00"/>
<rect x="916" y="617" width="3" height="57" fill="#00ff00"/>
<rect x="932" y="621" width="3" height="53" fill="#00ff00"/>
<rect x="948" y="625" width="3" height="49" fill="#00ff00"/>
<rect x="964" y="638" width="3" height="36" fill="#00ff00"/>
<rect x="980" y="657" width="3" height="17" fill="#00ff00"/>
<rect x="996" y="671" width="3" height="3" fill="#00ff00"/>
<rect x="1012" y="674" width="3" height="6" fill="#00ff00"/>
<rect x="1028" y="674" width="3" height="11" fill="#00ff00"/>
<rect x="1044" y="674" width="3" height="15" fill="#00ff00"/>
<rect x="1060" y="674" width="3" height="23" fill="#00ff00"/>
<rect x="1076" y="674" width="3" height="31" fill="#00ff00"/>
<rect x="1092" y="674" width="3" height="35" fill="#00ff00"/>
<rect x="1108" y="674" width="3" height="38" fill="#00ff00"/>
<rect x="1124" y="674" width="3" height="40" fill="#00ff00"/>
<rect x="1140" y="674" width="3" height="45" fill="#00ff00"/>
<rect x="1156" y="674" width="3" height="40" fill="#00ff00"/>
<rect x="1172" y="674" width="3" height="34" fill="#00ff00"/>
<rect x="1188" y="674" width="3" height="30" fill="#00ff00"/>
<rect x="1204" y="674" width="3" height="28" fill="#00ff00"/>
<rect x="1220" y="674" width="3" height="24" fill="#00ff00"/>
<rect x="1236" y="674" width="3" height="21" fill="#00ff00"/>
<rect x="1252" y="674" width="3" height="12" fill="#00ff00"/>
<rect x="1268" y="674" width="3" height="4" fill="#00ff00"/>
<rect x="1284" y="671" width="3" height="3" fill="#00ff00"/>
</g>
<g clip-path="url(#cmacd)">
<polyline points="5,680.0 21,686.2 37,693.2 53,699.0 69,704.4 85,708.1 101,710.5 117,711.9 133,711.9 149,711.2 165,709.0 181,706.2 197,701.9 213,694.8 229,687.4 245,679.2 261,671.8 277,663.5 293,654.4 309,646.5 325,637.0 341,630.3 357,624.1 373,621.2 389,619.5 405,619.0 421,619.1 437,621.2 453,626.2 469,631.6 485,637.4 501,642.8 517,651.1 533,658.6 549,664.8 565,668.6 581,671.9 597,673.1 613,676.8 629,676.8 645,677.0 661,676.8 677,674.6 693,672.7 709,669.8 725,665.6 741,660.6 757,654.4 773,647.4 789,641.5 805,635.3 821,628.6 837,623.2 853,619.1 869,617.0 885,616.6 901,615.8 917,615.8 933,616.2 949,618.3 965,619.9 981,626.1 997,632.4 1013,639.0 1029,645.8 1045,653.8 1061,662.9 1077,671.2 1093,679.9 1109,689.5 1125,695.4 1141,700.4 1157,704.3 1173,706.4 1189,708.5 1205,708.9 1221,708.5 1237,706.2 1253,704.3 1269,700.4 1285,695.0" fill="none" stroke="#ff0000" stroke-width="2" shape-rendering="crispEdges"/>
</g>
<text transform="translate(9.2,617) scale(1,1.05)" fill="#000" stroke="#000" stroke-width="0.12" textLength="150" lengthAdjust="spacingAndGlyphs">MACD(12,26,9) 0.000116 -0.001001</text>
<rect x="1642" y="606" width="2" height="1" fill="#000" shape-rendering="crispEdges"/>
<rect x="1642" y="674" width="2" height="1" fill="#000" shape-rendering="crispEdges"/>
<rect x="1642" y="724" width="2" height="1" fill="#000" shape-rendering="crispEdges"/>
<text transform="translate(1645.3,615) scale(1,1.05)" fill="#000" stroke="#000" stroke-width="0.12" textLength="37.5" lengthAdjust="spacingAndGlyphs">0.003274</text>
<text transform="translate(1645.3,678) scale(1,1.05)" fill="#000" stroke="#000" stroke-width="0.12" textLength="17.4" lengthAdjust="spacingAndGlyphs">0.00</text>
<text transform="translate(1645.3,722) scale(1,1.05)" fill="#000" stroke="#000" stroke-width="0.12" textLength="40.5" lengthAdjust="spacingAndGlyphs">-0.002453</text>
<g clip-path="url(#crsi)" shape-rendering="crispEdges">
<line x1="6" y1="750.5" x2="1641" y2="750.5" stroke="#000" stroke-width="1" stroke-dasharray="3,3"/>
<line x1="6" y1="782.5" x2="1641" y2="782.5" stroke="#000" stroke-width="1" stroke-dasharray="3,3"/>
<line x1="6" y1="820.5" x2="1641" y2="820.5" stroke="#000" stroke-width="1" stroke-dasharray="3,3"/>
</g>
<g clip-path="url(#crsi)">
<polyline points="5,800.0 21,798.1 37,794.8 53,793.1 69,793.0 85,786.9 101,786.9 117,785.3 133,784.0 149,785.8 165,779.9 181,783.6 197,767.9 213,767.6 229,766.2 245,762.9 261,767.9 277,767.8 293,764.9 309,764.9 325,764.9 341,764.9 357,770.3 373,775.0 389,774.0 405,773.9 421,784.0 437,790.8 453,790.8 469,783.6 485,787.0 501,795.8 517,794.8 533,782.0 549,781.1 565,774.9 581,782.4 597,786.8 613,786.8 629,784.9 645,779.0 661,776.9 677,783.6 693,769.9 709,769.5 725,768.9 741,767.8 757,769.9 773,768.9 789,767.8 805,768.9 821,768.5 837,767.8 853,767.0 869,779.9 885,773.1 901,773.1 917,767.8 933,777.0 949,777.0 965,788.6 981,795.8 997,793.1 1013,790.0 1029,789.7 1045,789.0 1061,794.8 1077,795.8 1093,794.0 1109,794.0 1125,794.0 1141,798.0 1157,783.9 1173,783.9 1189,783.9 1205,785.8 1221,783.5 1237,782.9 1253,775.0 1269,774.8 1285,773.9" fill="none" stroke="#1e90ff" stroke-width="2" shape-rendering="crispEdges"/>
</g>
<text transform="translate(9.2,740) scale(1,1.05)" fill="#000" stroke="#000" stroke-width="0.12" textLength="67" lengthAdjust="spacingAndGlyphs">RSI(14) 57.8198</text>
<rect x="1642" y="729" width="2" height="1" fill="#000" shape-rendering="crispEdges"/>
<text transform="translate(1645,738.0) scale(1,1.05)" fill="#000" stroke="#000" stroke-width="0.12">100</text>
<rect x="1642" y="750" width="2" height="1" fill="#000" shape-rendering="crispEdges"/>
<text transform="translate(1645,754.0) scale(1,1.05)" fill="#000" stroke="#000" stroke-width="0.12">80</text>
<rect x="1642" y="782" width="2" height="1" fill="#000" shape-rendering="crispEdges"/>
<text transform="translate(1645,786.0) scale(1,1.05)" fill="#000" stroke="#000" stroke-width="0.12">50</text>
<rect x="1642" y="820" width="2" height="1" fill="#000" shape-rendering="crispEdges"/>
<text transform="translate(1645,824.5) scale(1,1.05)" fill="#000" stroke="#000" stroke-width="0.12">15</text>
<rect x="1642" y="836" width="2" height="1" fill="#000" shape-rendering="crispEdges"/>
<text transform="translate(1645,834.0) scale(1,1.05)" fill="#000" stroke="#000" stroke-width="0.12">0</text>
<rect x="5" y="838" width="1" height="3" fill="#000" shape-rendering="crispEdges"/>
<text transform="translate(4,850) scale(1,1.05)" fill="#000" stroke="#000" stroke-width="0.12">21 Nov 2022</text>
<rect x="69" y="838" width="1" height="3" fill="#000" shape-rendering="crispEdges"/>
<text transform="translate(68,850) scale(1,1.05)" fill="#000" stroke="#000" stroke-width="0.12">22 Nov 04:00</text>
<rect x="133" y="838" width="1" height="3" fill="#000" shape-rendering="crispEdges"/>
<text transform="translate(132,850) scale(1,1.05)" fill="#000" stroke="#000" stroke-width="0.12">22 Nov 20:00</text>
<rect x="197" y="838" width="1" height="3" fill="#000" shape-rendering="crispEdges"/>
<text transform="translate(196,850) scale(1,1.05)" fill="#000" stroke="#000" stroke-width="0.12">23 Nov 12:00</text>
<rect x="261" y="838" width="1" height="3" fill="#000" shape-rendering="crispEdges"/>
<text transform="translate(260,850) scale(1,1.05)" fill="#000" stroke="#000" stroke-width="0.12">24 Nov 04:00</text>
<rect x="325" y="838" width="1" height="3" fill="#000" shape-rendering="crispEdges"/>
<text transform="translate(324,850) scale(1,1.05)" fill="#000" stroke="#000" stroke-width="0.12">24 Nov 20:00</text>
<rect x="389" y="838" width="1" height="3" fill="#000" shape-rendering="crispEdges"/>
<text transform="translate(388,850) scale(1,1.05)" fill="#000" stroke="#000" stroke-width="0.12">25 Nov 12:00</text>
<rect x="453" y="838" width="1" height="3" fill="#000" shape-rendering="crispEdges"/>
<text transform="translate(452,850) scale(1,1.05)" fill="#000" stroke="#000" stroke-width="0.12">28 Nov 04:00</text>
<rect x="517" y="838" width="1" height="3" fill="#000" shape-rendering="crispEdges"/>
<text transform="translate(516,850) scale(1,1.05)" fill="#000" stroke="#000" stroke-width="0.12">28 Nov 20:00</text>
<rect x="581" y="838" width="1" height="3" fill="#000" shape-rendering="crispEdges"/>
<text transform="translate(580,850) scale(1,1.05)" fill="#000" stroke="#000" stroke-width="0.12">29 Nov 12:00</text>
<rect x="645" y="838" width="1" height="3" fill="#000" shape-rendering="crispEdges"/>
<text transform="translate(644,850) scale(1,1.05)" fill="#000" stroke="#000" stroke-width="0.12">30 Nov 04:00</text>
<rect x="709" y="838" width="1" height="3" fill="#000" shape-rendering="crispEdges"/>
<text transform="translate(708,850) scale(1,1.05)" fill="#000" stroke="#000" stroke-width="0.12">30 Nov 20:00</text>
<rect x="773" y="838" width="1" height="3" fill="#000" shape-rendering="crispEdges"/>
<text transform="translate(772,850) scale(1,1.05)" fill="#000" stroke="#000" stroke-width="0.12">1 Dec 12:00</text>
<rect x="837" y="838" width="1" height="3" fill="#000" shape-rendering="crispEdges"/>
<text transform="translate(836,850) scale(1,1.05)" fill="#000" stroke="#000" stroke-width="0.12">2 Dec 04:00</text>
<rect x="901" y="838" width="1" height="3" fill="#000" shape-rendering="crispEdges"/>
<text transform="translate(900,850) scale(1,1.05)" fill="#000" stroke="#000" stroke-width="0.12">4 Dec 23:00</text>
<rect x="965" y="838" width="1" height="3" fill="#000" shape-rendering="crispEdges"/>
<text transform="translate(964,850) scale(1,1.05)" fill="#000" stroke="#000" stroke-width="0.12">5 Dec 12:00</text>
<rect x="1029" y="838" width="1" height="3" fill="#000" shape-rendering="crispEdges"/>
<text transform="translate(1028,850) scale(1,1.05)" fill="#000" stroke="#000" stroke-width="0.12">6 Dec 04:00</text>
<rect x="1093" y="838" width="1" height="3" fill="#000" shape-rendering="crispEdges"/>
<text transform="translate(1092,850) scale(1,1.05)" fill="#000" stroke="#000" stroke-width="0.12">6 Dec 20:00</text>
<rect x="1157" y="838" width="1" height="3" fill="#000" shape-rendering="crispEdges"/>
<text transform="translate(1156,850) scale(1,1.05)" fill="#000" stroke="#000" stroke-width="0.12">7 Dec 12:00</text>
<rect x="1221" y="838" width="1" height="3" fill="#000" shape-rendering="crispEdges"/>
<text transform="translate(1220,850) scale(1,1.05)" fill="#000" stroke="#000" stroke-width="0.12">8 Dec 04:00</text>
<rect x="1285" y="838" width="1" height="3" fill="#000" shape-rendering="crispEdges"/>
<text transform="translate(1284,850) scale(1,1.05)" fill="#000" stroke="#000" stroke-width="0.12">8 Dec 20:00</text>
</svg></body></html>
